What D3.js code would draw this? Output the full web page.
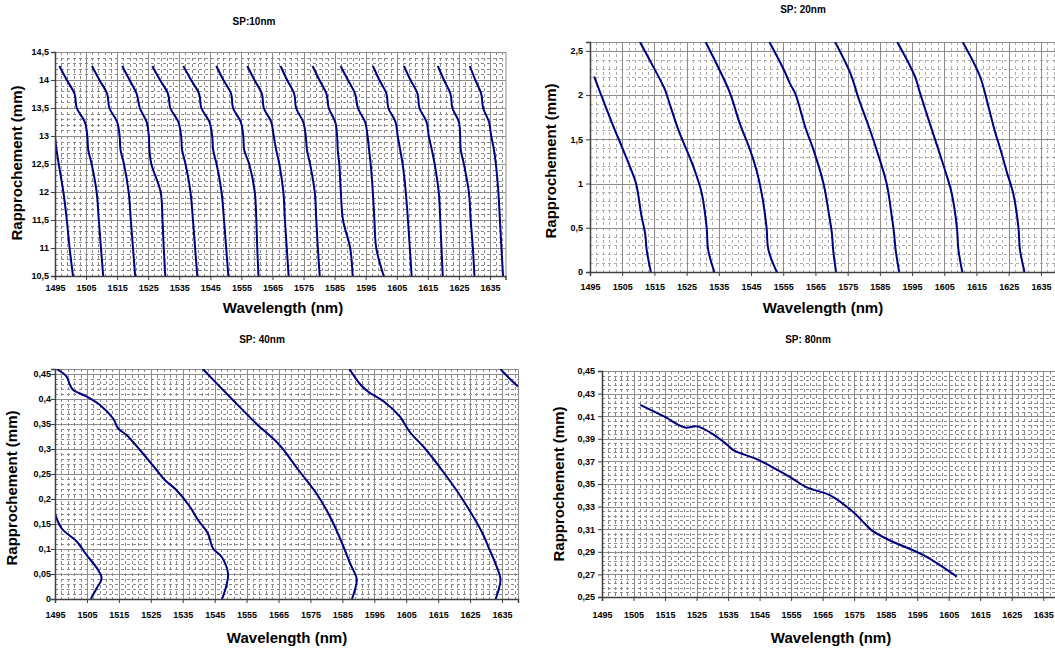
<!DOCTYPE html>
<html>
<head>
<meta charset="utf-8">
<script src="https://cdnjs.cloudflare.com/ajax/libs/d3/7.8.5/d3.min.js"></script>
<style>
    body { margin: 0; background: #fff }
    svg { display: block; font-family: Arial, "Liberation Sans", sans-serif }
</style>
</head>
<body>
<svg id="chart" width="1055" height="648"></svg>
<script>
/* ---------------------- DATA ---------------------- */

const waveDomain = [1495, 1640]
const waveTicks = [1495, 1505, 1515, 1525, 1535, 1545, 1555, 1565, 1575, 1585, 1595, 1605, 1615, 1625, 1635]

// SP:10nm -> every curve is read at the same gap levels
const sp10Ticks = [10.5, 11, 11.5, 12, 12.5, 13, 13.5, 14, 14.5]
const sp10Gap = [14.25, 14, 13.75, 13.5, 13.25, 13, 12.75, 12.5, 12, 11.5, 11, 10.5]
const sp10Wave = [
    [null, null, null, null, null, 1495.0, 1495.5, 1496.2, 1497.7, 1498.8, 1499.7, 1500.8],
    [1496.4, 1498.8, 1501.3, 1502.0, 1504.6, 1505.4, 1505.7, 1506.8, 1508.4, 1509.1, 1509.8, 1510.5],
    [1506.9, 1509.3, 1511.8, 1512.5, 1515.0, 1515.8, 1516.1, 1517.2, 1518.7, 1519.4, 1520.1, 1520.8],
    [1516.6, 1519.0, 1521.3, 1522.3, 1524.5, 1525.2, 1525.4, 1526.0, 1529.0, 1529.6, 1530.0, 1530.5],
    [1526.3, 1528.8, 1531.4, 1532.1, 1534.7, 1535.6, 1535.9, 1537.0, 1538.6, 1539.4, 1540.1, 1540.8],
    [1536.3, 1538.8, 1541.4, 1542.1, 1544.7, 1545.6, 1545.9, 1547.0, 1548.6, 1549.4, 1550.1, 1550.8],
    [1546.9, 1549.2, 1551.7, 1552.3, 1554.8, 1555.6, 1555.9, 1557.5, 1559.3, 1559.8, 1560.1, 1560.5],
    [1556.9, 1559.2, 1561.6, 1562.2, 1564.6, 1565.4, 1566.2, 1567.2, 1568.5, 1569.0, 1569.6, 1570.2],
    [1567.6, 1569.7, 1572.0, 1572.6, 1574.9, 1575.7, 1576.1, 1577.1, 1578.6, 1579.1, 1579.6, 1580.2],
    [1577.9, 1580.1, 1582.4, 1583.1, 1585.2, 1585.8, 1586.0, 1586.5, 1587.0, 1587.7, 1590.0, 1590.8],
    [1586.9, 1589.3, 1591.6, 1592.5, 1594.8, 1595.6, 1596.1, 1596.6, 1597.3, 1597.8, 1598.4, 1600.8],
    [1597.3, 1599.4, 1601.7, 1602.3, 1604.6, 1605.3, 1606.1, 1606.9, 1607.9, 1608.6, 1609.2, 1609.8],
    [1607.3, 1609.4, 1611.7, 1612.3, 1614.6, 1615.3, 1616.3, 1617.2, 1618.5, 1619.0, 1619.4, 1619.8],
    [1618.2, 1620.2, 1622.3, 1622.9, 1625.0, 1625.4, 1625.6, 1626.6, 1628.2, 1628.8, 1629.5, 1630.0],
    [1628.5, 1630.3, 1632.2, 1632.8, 1634.7, 1635.4, 1636.3, 1636.9, 1637.7, 1638.2, 1638.7, 1639.2]
]

// SP: 20nm -> [wavelength, gap]
const sp20Ticks = [0, 0.5, 1, 1.5, 2, 2.5]
const sp20Curves = [
    [[1496.3, 2.21], [1499.0, 1.95], [1502.0, 1.67], [1505.3, 1.38], [1507.4, 1.19], [1509.3, 1.0], [1511.0, 0.63], [1512.1, 0.44], [1512.6, 0.25], [1513.9, 0]],
    [[1510.5, 2.6], [1514.5, 2.33], [1518.3, 2.06], [1519.3, 1.95], [1522.5, 1.6], [1525.0, 1.38], [1527.5, 1.15], [1529.7, 0.89], [1531.2, 0.51], [1531.7, 0.25], [1533.6, 0]],
    [[1530.9, 2.6], [1535.0, 2.3], [1538.5, 2.02], [1541.5, 1.68], [1544.7, 1.38], [1546.7, 1.15], [1548.3, 0.89], [1549.8, 0.51], [1550.4, 0.25], [1553.0, 0]],
    [[1550.7, 2.6], [1555.0, 2.3], [1557.1, 2.13], [1558.7, 2.02], [1559.7, 1.91], [1562.0, 1.62], [1564.4, 1.38], [1567.5, 1.0], [1569.3, 0.63], [1570.1, 0.44], [1570.5, 0.25], [1571.4, 0]],
    [[1571.1, 2.6], [1575.8, 2.25], [1578.5, 1.95], [1581.5, 1.65], [1584.0, 1.38], [1587.1, 1.0], [1588.7, 0.63], [1589.4, 0.44], [1589.9, 0.25], [1591.0, 0]],
    [[1590.4, 2.6], [1595.9, 2.21], [1597.5, 2.02], [1600.5, 1.68], [1603.2, 1.38], [1605.5, 1.12], [1607.3, 0.89], [1608.9, 0.51], [1609.4, 0.25], [1610.6, 0]],
    [[1610.7, 2.6], [1616.1, 2.21], [1618.7, 1.87], [1620.8, 1.58], [1622.5, 1.38], [1624.5, 1.12], [1626.4, 0.89], [1628.0, 0.51], [1628.5, 0.25], [1629.9, 0]]
]

// SP: 40nm
const sp40Ticks = [0, 0.05, 0.1, 0.15, 0.2, 0.25, 0.3, 0.35, 0.4, 0.45]
const sp40Curves = [
    [[1495.0, 0.171], [1497.1, 0.141], [1501.8, 0.115], [1504.9, 0.088], [1508.5, 0.058], [1509.6, 0.041], [1508.0, 0.021], [1506.2, 0]],
    [[1495.5, 0.46], [1498.6, 0.445], [1499.7, 0.428], [1500.7, 0.418], [1504.9, 0.405], [1509.1, 0.388], [1513.2, 0.361], [1514.8, 0.341],
     [1517.4, 0.328], [1521.6, 0.298], [1526.8, 0.258], [1529.4, 0.238], [1533.0, 0.218], [1537.2, 0.185], [1539.8, 0.158], [1542.9, 0.131],
     [1544.5, 0.101], [1547.1, 0.085], [1549.2, 0.051], [1548.6, 0.025], [1547.3, 0]],
    [[1541.3, 0.46], [1550.7, 0.398], [1558.0, 0.351], [1565.3, 0.308], [1571.0, 0.26], [1577.0, 0.21], [1581.5, 0.16], [1585.0, 0.11],
     [1587.5, 0.07], [1589.5, 0.04], [1589.0, 0.02], [1588.0, 0]],
    [[1587.2, 0.46], [1590.5, 0.43], [1593.0, 0.415], [1598.0, 0.395], [1603.0, 0.365], [1606.0, 0.335], [1611.0, 0.3], [1616.5, 0.255],
     [1621.0, 0.215], [1625.5, 0.17], [1629.0, 0.13], [1631.0, 0.1], [1633.0, 0.07], [1634.5, 0.04], [1634.0, 0.02], [1633.0, 0]],
    [[1634.5, 0.46], [1637.5, 0.44], [1640.0, 0.425]]
]

// SP: 80nm
const sp80Ticks = [0.25, 0.27, 0.29, 0.31, 0.33, 0.35, 0.37, 0.39, 0.41, 0.43, 0.45]
const sp80Curve = [[1507.1, 0.420], [1514.5, 0.410], [1521.3, 0.400], [1525.1, 0.401], [1530.3, 0.394], [1534.6, 0.385], [1536.7, 0.380],
    [1544.1, 0.372], [1548.3, 0.366], [1554.7, 0.356], [1560.0, 0.347], [1567.4, 0.340], [1574.8, 0.325], [1578.0, 0.316],
    [1580.6, 0.309], [1586.4, 0.300], [1597.0, 0.287], [1607.6, 0.268]]

/* --------------------- PANELS --------------------- */

let svg = d3.select('#chart')
let comma = d => String(d).replace('.', ',')

function drawPanel(p) {
    let x = d3.scaleLinear().domain(waveDomain).range([p.left, p.right])
    let y = d3.scaleLinear().domain(p.yDomain).range([p.bottom, p.top])
    let g = svg.append('g')

    g.append('clipPath').attr('id', p.id)
        .append('rect').attr('x', p.left).attr('y', p.top)
        .attr('width', p.right - p.left).attr('height', p.bottom - p.top)

    // minor grid (dashed, like the excel one)
    let minor = g.append('g').attr('stroke', p.minorColor).attr('stroke-dasharray', '3,3')
    minor.selectAll('.mx').data(d3.range(waveDomain[0] + 2, waveDomain[1], 2)).enter().append('line')
        .attr('x1', d => Math.round(x(d)) + 0.5).attr('x2', d => Math.round(x(d)) + 0.5)
        .attr('y1', p.top).attr('y2', p.bottom)
    minor.selectAll('.my').data(d3.range(p.yDomain[0], p.yDomain[1] + 1e-9, p.yMinor)).enter().append('line')
        .attr('y1', d => Math.round(y(d)) + 0.5).attr('y2', d => Math.round(y(d)) + 0.5)
        .attr('x1', p.left).attr('x2', p.right)

    // major grid
    let major = g.append('g').attr('stroke', '#8c8c8c')
    major.selectAll('.vx').data(waveTicks).enter().append('line')
        .attr('x1', d => Math.round(x(d)) + 0.5).attr('x2', d => Math.round(x(d)) + 0.5)
        .attr('y1', p.top).attr('y2', p.bottom)
    major.selectAll('.vy').data(p.yTicks).enter().append('line')
        .attr('y1', d => Math.round(y(d)) + 0.5).attr('y2', d => Math.round(y(d)) + 0.5)
        .attr('x1', p.left).attr('x2', p.right)

    g.append('rect').attr('x', p.left + 0.5).attr('y', p.top + 0.5)
        .attr('width', p.right - p.left).attr('height', p.bottom - p.top)
        .attr('fill', 'none').attr('stroke', '#8c8c8c')

    // curves
    let line = d3.line().defined(d => d[0] != null)
        .x(d => x(d[0])).y(d => y(d[1])).curve(d3.curveCatmullRom.alpha(0.5))
    g.append('g').attr('clip-path', 'url(#' + p.id + ')')
        .selectAll('path').data(p.curves).enter().append('path')
        .attr('d', line).attr('fill', 'none').attr('stroke', '#000080').attr('stroke-width', 2)

    // axes
    let xAxis = g.append('g').attr('transform', 'translate(0,' + p.bottom + ')')
        .call(d3.axisBottom(x).tickValues(waveTicks).tickSize(4).tickFormat(d => d))
    let yAxis = g.append('g').attr('transform', 'translate(' + p.left + ',0)')
        .call(d3.axisLeft(y).tickValues(p.yTicks).tickSize(4).tickFormat(comma))
    for (let a of [xAxis, yAxis]) {
        a.select('.domain').attr('stroke', '#404040').attr('stroke-width', 1.5)
        a.selectAll('.tick line').attr('stroke', '#404040')
        a.selectAll('text').attr('font-size', 9).attr('font-weight', 'bold').attr('fill', '#000')
            .attr('font-family', 'Arial, "Liberation Sans", sans-serif')
    }
    xAxis.selectAll('text').attr('y', p.xLabelDy)
    yAxis.selectAll('text').attr('x', -p.yLabelDx)

    // titles
    g.append('text').attr('x', p.titleX).attr('y', p.titleY).attr('text-anchor', 'middle')
        .attr('font-size', 10).attr('font-weight', 'bold').text(p.title)
    g.append('text').attr('x', p.xTitleX).attr('y', p.xTitleY).attr('text-anchor', 'middle')
        .attr('font-size', 15).attr('font-weight', 'bold').text('Wavelength (nm)')
    g.append('text').attr('transform', 'translate(' + p.yTitleX + ',' + p.yTitleY + ') rotate(-90)')
        .attr('text-anchor', 'middle').attr('font-size', 15).attr('font-weight', 'bold').text('Rapprochement (mm)')
}

drawPanel({
    id: 'c10', title: 'SP:10nm', left: 55, right: 505.5, top: 52, bottom: 276,
    yDomain: [10.5, 14.5], yTicks: sp10Ticks, yMinor: 0.1, minorColor: '#8a8a8a',
    curves: sp10Wave.map(w => w.map((v, i) => [v, sp10Gap[i]])),
    xLabelDy: 9, yLabelDx: 6,
    titleX: 254, titleY: 25, xTitleX: 283, xTitleY: 313, yTitleX: 22, yTitleY: 163
})

drawPanel({
    id: 'c20', title: 'SP: 20nm', left: 590, right: 1057, top: 42, bottom: 272,
    yDomain: [0, 2.6], yTicks: sp20Ticks, yMinor: 0.1, minorColor: '#b0b0b0',
    curves: sp20Curves,
    xLabelDy: 12, yLabelDx: 7,
    titleX: 803, titleY: 13, xTitleX: 823, xTitleY: 313, yTitleX: 556, yTitleY: 161
})

drawPanel({
    id: 'c40', title: 'SP: 40nm', left: 55, right: 518, top: 369, bottom: 599,
    yDomain: [0, 0.46], yTicks: sp40Ticks, yMinor: 0.01, minorColor: '#8a8a8a',
    curves: sp40Curves,
    xLabelDy: 13, yLabelDx: 4,
    titleX: 262, titleY: 343, xTitleX: 287, xTitleY: 643, yTitleX: 17, yTitleY: 488
})

drawPanel({
    id: 'c80', title: 'SP: 80nm', left: 602, right: 1059, top: 371, bottom: 597,
    yDomain: [0.25, 0.45], yTicks: sp80Ticks, yMinor: 0.004, minorColor: '#8a8a8a',
    curves: [sp80Curve],
    xLabelDy: 15, yLabelDx: 7,
    titleX: 808, titleY: 343, xTitleX: 831, xTitleY: 643, yTitleX: 564, yTitleY: 484
})
</script>
</body>
</html>
